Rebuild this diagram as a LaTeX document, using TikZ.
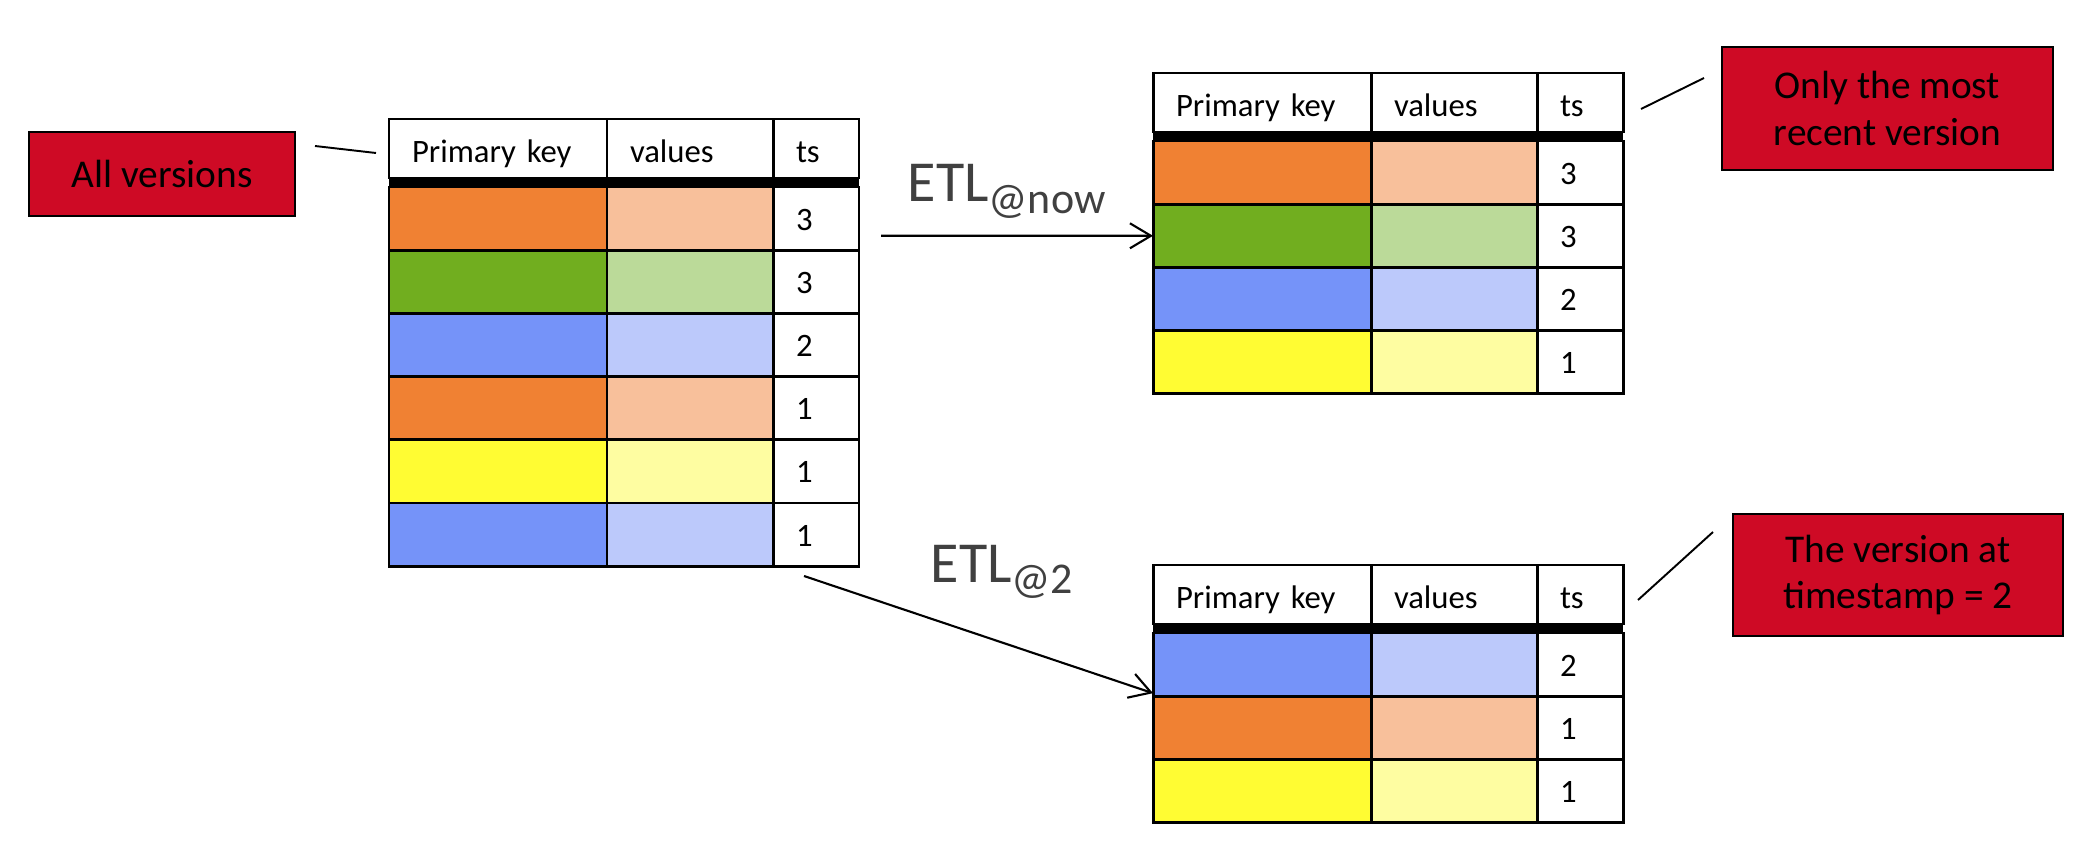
\documentclass[tikz,border=0pt]{standalone}
\usepackage{fontspec}
\setmainfont{Carlito}
\usetikzlibrary{arrows.meta}

\definecolor{pkOrange}{HTML}{F08133}
\definecolor{valOrange}{HTML}{F8C09B}
\definecolor{pkGreen}{HTML}{71AE1F}
\definecolor{valGreen}{HTML}{BBDA99}
\definecolor{pkBlue}{HTML}{7593F9}
\definecolor{valBlue}{HTML}{BCC9FB}
\definecolor{pkYellow}{HTML}{FFFC33}
\definecolor{valYellow}{HTML}{FEFDA1}
\definecolor{noteRed}{HTML}{CE0A25}
\definecolor{etlGray}{HTML}{404040}

\tikzset{
  cell/.style={draw, line width=0.85pt, inner sep=0pt, inner xsep=0.23cm, outer sep=0pt,
    anchor=north west, align=left, font=\fontsize{9.3}{11}\selectfont,
    text height=6.5pt, text depth=0pt},
  headcell/.style={cell, fill=white, minimum height=0.59cm, text height=8pt},
  rowcell/.style={cell, minimum height=0.632cm},
  pkcol/.style={text width=1.72cm},
  valcol/.style={text width=1.20cm},
  tscol/.style={text width=0.40cm},
  note/.style={draw, line width=0.6pt, fill=noteRed, inner sep=0pt, align=center,
    font=\fontsize{11.2}{13.1}\selectfont},
  etl/.style={line width=0.6pt, -{Straight Barb[length=2.1mm, width=2.5mm]}},
  etllabel/.style={anchor=base west, inner sep=0pt, text=etlGray,
    font=\fontsize{16.5}{18}\selectfont},
  callout/.style={line width=0.55pt}
}

\begin{document}
\begin{tikzpicture}
    \useasboundingbox (0,0) rectangle (20.78,8.48);

    % Table de gauche : toutes les versions
    \begin{scope}[shift={(3.89,7.29)}]
        \node[headcell, pkcol] (L-h1) at (0,0) {Primary key};
        \node[headcell, valcol] (L-h2) at (L-h1.north east) {values};
        \node[headcell, tscol] (L-h3) at (L-h2.north east) {ts};
        \fill (L-h1.south west) rectangle ([yshift=-0.09cm]L-h3.south east);
        \foreach \c/\t [count=\i] in {Orange/3, Green/3, Blue/2, Orange/1, Yellow/1, Blue/1} {
            \node[rowcell, pkcol, fill=pk\c] (L-pk\i) at (0,{-0.68-(\i-1)*0.632}) {};
            \node[rowcell, valcol, fill=val\c] (L-v\i) at (L-pk\i.north east) {};
            \node[rowcell, tscol, fill=white] (L-ts\i) at (L-v\i.north east) {\t};
        }
    \end{scope}

    % Table en haut : version la plus recente
    \begin{scope}[shift={(11.53,7.75)}]
        \node[headcell, pkcol] (T-h1) at (0,0) {Primary key};
        \node[headcell, valcol] (T-h2) at (T-h1.north east) {values};
        \node[headcell, tscol] (T-h3) at (T-h2.north east) {ts};
        \fill (T-h1.south west) rectangle ([yshift=-0.09cm]T-h3.south east);
        \foreach \c/\t [count=\i] in {Orange/3, Green/3, Blue/2, Yellow/1} {
            \node[rowcell, pkcol, fill=pk\c] (T-pk\i) at (0,{-0.68-(\i-1)*0.632}) {};
            \node[rowcell, valcol, fill=val\c] (T-v\i) at (T-pk\i.north east) {};
            \node[rowcell, tscol, fill=white] (T-ts\i) at (T-v\i.north east) {\t};
        }
    \end{scope}

    % Table en bas : version au timestamp 2
    \begin{scope}[shift={(11.53,2.83)}]
        \node[headcell, pkcol] (B-h1) at (0,0) {Primary key};
        \node[headcell, valcol] (B-h2) at (B-h1.north east) {values};
        \node[headcell, tscol] (B-h3) at (B-h2.north east) {ts};
        \fill (B-h1.south west) rectangle ([yshift=-0.09cm]B-h3.south east);
        \foreach \c/\t [count=\i] in {Blue/2, Orange/1, Yellow/1} {
            \node[rowcell, pkcol, fill=pk\c] (B-pk\i) at (0,{-0.68-(\i-1)*0.632}) {};
            \node[rowcell, valcol, fill=val\c] (B-v\i) at (B-pk\i.north east) {};
            \node[rowcell, tscol, fill=white] (B-ts\i) at (B-v\i.north east) {\t};
        }
    \end{scope}

    % Notes rouges
    \node[note, minimum width=2.66cm, minimum height=0.84cm] (all) at (1.62,6.74) {All versions};
    \node[note, minimum width=3.31cm, minimum height=1.23cm] (recent) at (18.875,7.395) {Only the most\\recent version};
    \node[note, minimum width=3.30cm, minimum height=1.22cm] (at2) at (18.98,2.73) {The version at\\timestamp = 2};

    % Traits de rappel
    \coordinate (all-a) at (3.15,7.02);
    \coordinate (all-b) at (3.76,6.95);
    \coordinate (recent-a) at (16.41,7.39);
    \coordinate (recent-b) at (17.04,7.70);
    \coordinate (at2-a) at (16.38,2.48);
    \coordinate (at2-b) at (17.13,3.16);
    \draw[callout] (all-a) -- (all-b);
    \draw[callout] (recent-a) -- (recent-b);
    \draw[callout] (at2-a) -- (at2-b);

    % ETL
    \coordinate (now-src) at (8.81,6.122);
    \coordinate (old-src) at (8.04,2.72);
    \draw[etl] (now-src) -- (T-pk2.west);
    \draw[etl] (old-src) -- ([yshift=0.03cm]B-pk1.south west);
    \node[etllabel] (etl-now) at (9.07,6.46) {ETL\raisebox{-0.12cm}{\fontsize{12.5}{14}\selectfont @now}};
    \node[etllabel] (etl-old) at (9.30,2.66) {ETL\raisebox{-0.11cm}{\fontsize{12.5}{14}\selectfont @2}};
\end{tikzpicture}
\end{document}
